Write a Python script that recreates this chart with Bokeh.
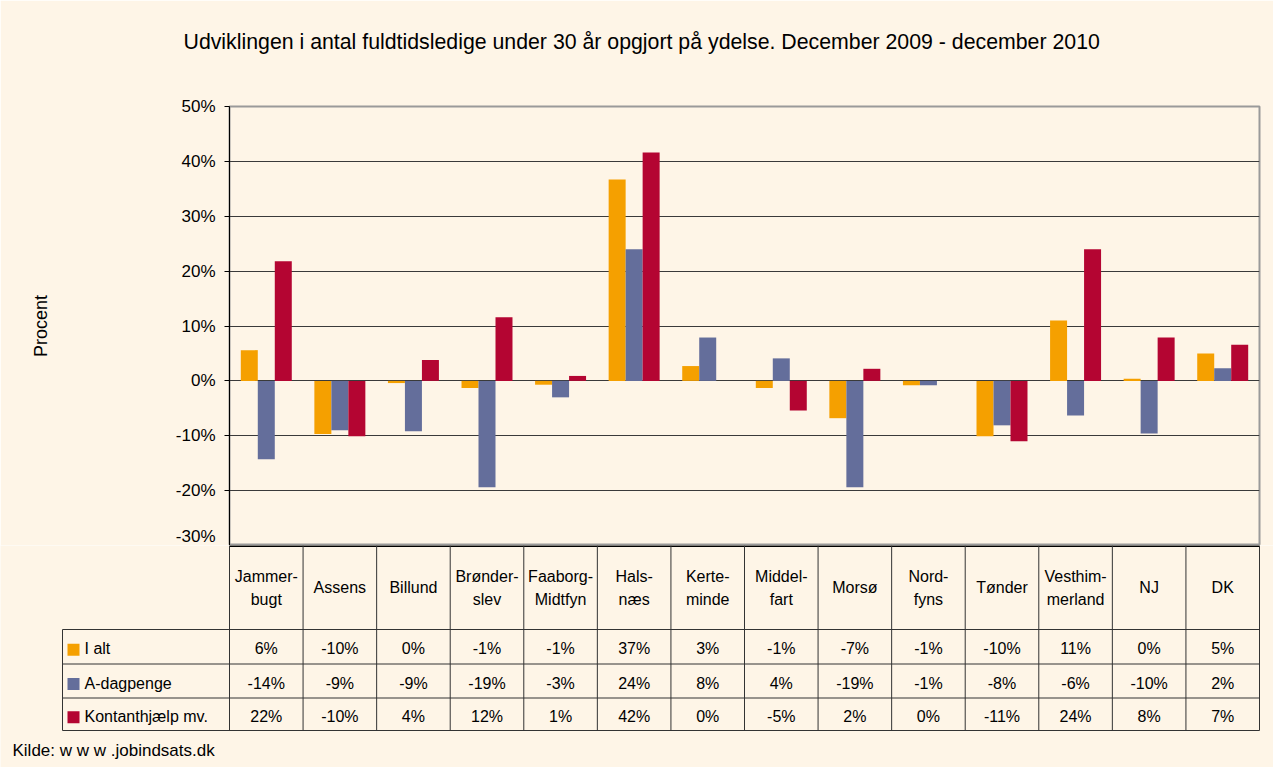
import math
from bokeh.plotting import figure
from bokeh.models import FactorRange, Range1d, ColumnDataSource, FixedTicker, Title
from bokeh.transform import dodge
from bokeh.embed import file_html
from bokeh.resources import INLINE
from bokeh.core.properties import value

# ---------------- data ----------------
categories = ["Jammerbugt", "Assens", "Billund", "Brønderslev", "Faaborg-Midtfyn",
              "Halsnæs", "Kerteminde", "Middelfart", "Morsø", "Nordfyns",
              "Tønder", "Vesthimmerland", "NJ", "DK"]
header_labels = ["Jammer-\nbugt", "Assens", "Billund", "Brønder-\nslev", "Faaborg-\nMidtfyn",
                 "Hals-\nnæs", "Kerte-\nminde", "Middel-\nfart", "Morsø", "Nord-\nfyns",
                 "Tønder", "Vesthim-\nmerland", "NJ", "DK"]
series_names = ["I alt", "A-dagpenge", "Kontanthjælp mv."]
i_alt = [5.6, -9.7, -0.4, -1.3, -0.7, 36.7, 2.7, -1.3, -6.8, -0.8, -10.1, 11.0, 0.4, 5.0]
a_dagpenge = [-14.3, -9.0, -9.2, -19.4, -3.0, 24.0, 7.9, 4.1, -19.4, -0.8, -8.1, -6.3, -9.6, 2.3]
kontanthjaelp = [21.8, -10.1, 3.8, 11.6, 0.9, 41.6, 0.0, -5.4, 2.2, 0.0, -11.0, 24.0, 7.9, 6.6]
y_ticks = [-30, -20, -10, 0, 10, 20, 30, 40, 50]
y_tick_labels = {t: f"{t}%" for t in y_ticks}
title_text = "Udviklingen i antal fuldtidsledige under 30 år opgjort på ydelse. December 2009 - december 2010"
source_text = "Kilde: w w w .jobindsats.dk"

colors = ["#F5A000", "#646E9B", "#B40532"]
BG = "#FEF5E7"
FONT = "Liberation Sans"
series = [i_alt, a_dagpenge, kontanthjaelp]


def pct(v):
    r = int(math.copysign(math.floor(abs(v) + 0.5), v))
    return f"{r}%"


# ---------------- chart figure ----------------
W = 1273
H1 = 545
p = figure(width=W, height=H1,
           x_range=FactorRange(factors=categories, range_padding=0),
           y_range=Range1d(-30, 50),
           output_backend="svg", toolbar_location=None,
           min_border_left=229, min_border_right=14,
           min_border_top=106, min_border_bottom=0)
p.background_fill_color = BG
p.border_fill_color = BG
p.outline_line_color = "#9a9a9a"
p.outline_line_width = 2

# spacer between frame and title (pushes the title upward)
p.add_layout(Title(text=" ", text_font_size="2px", standoff=44), "above")

p.title.text = title_text
p.title.text_font = FONT
p.title.text_font_size = "21.3px"
p.title.text_font_style = "normal"
p.title.text_color = "#000000"
p.title.align = "left"
p.title.offset = -46
p.title.standoff = 10

p.xaxis.visible = False
p.xgrid.visible = False
p.ygrid.ticker = FixedTicker(ticks=[t for t in y_ticks if -30 < t < 50])
p.ygrid.grid_line_color = "#3a3a3a"
p.ygrid.grid_line_width = 1

ax = p.yaxis[0]
ax.ticker = FixedTicker(ticks=y_ticks)
ax.major_label_overrides = y_tick_labels
ax.major_tick_out = 5
ax.major_tick_in = 0
ax.minor_tick_out = 0
ax.minor_tick_in = 0
ax.axis_line_color = "#000000"
ax.major_tick_line_color = "#000000"
ax.major_label_text_font = FONT
ax.major_label_text_font_size = "17px"
ax.major_label_text_color = "#000000"
ax.major_label_standoff = 9
ax.axis_label = "Procent"
ax.axis_label_text_font = FONT
ax.axis_label_text_font_size = "18px"
ax.axis_label_text_font_style = "normal"
ax.axis_label_text_color = "#000000"
ax.axis_label_standoff = 122

src = ColumnDataSource(dict(cat=categories, s0=i_alt, s1=a_dagpenge, s2=kontanthjaelp))
BW = 0.231
for k, off in enumerate([-BW, 0, BW]):
    p.vbar(x=dodge("cat", off, range=p.x_range), top=f"s{k}", bottom=0, width=BW,
           source=src, fill_color=colors[k], line_color=None)

# ---------------- table figure ----------------
U = 1030 / 14.0           # pixels per category
H2 = 767 - H1
x_start = -229 / U
x_end = 14 + (1273 - 1259) / U
p2 = figure(width=W, height=H2,
            x_range=Range1d(x_start, x_end),
            y_range=Range1d(-(545 + H2), -545),
            output_backend="svg", toolbar_location=None,
            min_border=0)
p2.background_fill_color = BG
p2.border_fill_color = BG
p2.outline_line_color = None
p2.axis.visible = False
p2.grid.visible = False

n = len(categories)
leg_left = (62 - 229) / U
top_y, row_bounds = -545, [-629, -663.5, -697.5, -730]
LC = "#333333"

# horizontal lines
p2.segment(x0=[0], y0=[top_y], x1=[n], y1=[top_y], line_color="#000000", line_width=3)
p2.segment(x0=[leg_left] * 4, y0=row_bounds, x1=[n] * 4, y1=row_bounds,
           line_color=LC, line_width=1)
# vertical lines
xs = list(range(n + 1))
p2.segment(x0=xs, y0=[top_y] * len(xs), x1=xs, y1=[row_bounds[-1]] * len(xs),
           line_color=LC, line_width=1)
p2.segment(x0=[leg_left], y0=[row_bounds[0]], x1=[leg_left], y1=[row_bounds[-1]],
           line_color=LC, line_width=1)

# header labels
hx, hy, ht = [], [], []
for i, lab in enumerate(header_labels):
    lines = lab.split("\n")
    if len(lines) == 1:
        hx.append(i + 0.5); hy.append(-587); ht.append(lines[0])
    else:
        hx += [i + 0.5, i + 0.5]; hy += [-576, -599]; ht += lines
p2.text(x=hx, y=hy, text=ht, text_align="center", text_baseline="middle",
        text_font=value(FONT), text_font_size="16px", text_color="#000000")

# values
row_centers = [-(629 + 663.5) / 2 - 2, -(663.5 + 697.5) / 2 - 2, -(697.5 + 730) / 2 - 2]
vx, vy, vt = [], [], []
for r, vals in enumerate(series):
    for i, v in enumerate(vals):
        vx.append(i + 0.5); vy.append(row_centers[r]); vt.append(pct(v))
p2.text(x=vx, y=vy, text=vt, text_align="center", text_baseline="middle",
        text_font=value(FONT), text_font_size="16px", text_color="#000000")

# legend keys
p2.scatter(x=[(73 - 229) / U] * 3, y=[c - 1 for c in row_centers], marker="square", size=12,
           fill_color=colors, line_color=None)
p2.text(x=[(84 - 229) / U] * 3, y=row_centers, text=series_names, text_align="left",
        text_baseline="middle", text_font=value(FONT), text_font_size="16px",
        text_color="#000000")

# source note
p2.text(x=[(12 - 229) / U], y=[-750], text=[source_text], text_align="left",
        text_baseline="middle", text_font=value(FONT), text_font_size="17px",
        text_color="#000000")

open("out.html", "w").write(file_html([p, p2], INLINE))
